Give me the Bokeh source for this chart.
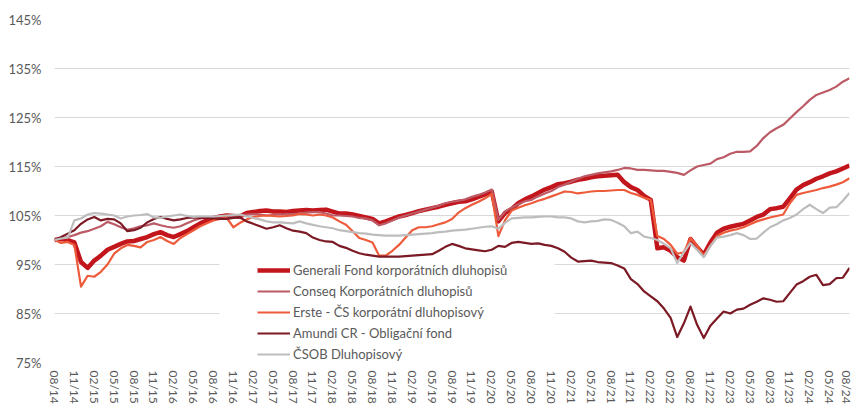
from bokeh.plotting import figure
from bokeh.models import Range1d, FixedTicker, Legend, LegendItem, BoxAnnotation
from bokeh.embed import file_html
from bokeh.resources import INLINE

# ---------------- data (monthly, 08/2014 .. 08/2024) ----------------
x_labels = ["08/14", "11/14", "02/15", "05/15", "08/15", "11/15", "02/16", "05/16",
            "08/16", "11/16", "02/17", "05/17", "08/17", "11/17", "02/18", "05/18",
            "08/18", "11/18", "02/19", "05/19", "08/19", "11/19", "02/20", "05/20",
            "08/20", "11/20", "02/21", "05/21", "08/21", "11/21", "02/22", "05/22",
            "08/22", "11/22", "02/23", "05/23", "08/23", "11/23", "02/24", "05/24",
            "08/24"]
y_ticks = [75, 85, 95, 105, 115, 125, 135, 145]
y_labels = ["75%", "85%", "95%", "105%", "115%", "125%", "135%", "145%"]

series_names = ["Generali Fond korporátních dluhopisů",
                "Conseq Korporátních dluhopisů",
                "Erste - ČS korporátní dluhopisový",
                "Amundi CR - Obligační fond",
                "ČSOB Dluhopisový"]

generali = [100.0, 100.2, 100.0, 99.5, 95.5, 94.3, 95.8, 96.8, 98.0, 98.6,
            99.2, 99.7, 99.8, 100.2, 100.6, 101.2, 101.6, 101.0, 100.6, 101.2,
            101.8, 102.6, 103.4, 104.0, 104.5, 104.8, 105.0, 104.9, 104.8, 105.5,
            105.7, 105.9, 106.0, 105.8, 105.8, 105.7, 105.9, 106.0, 106.1, 106.0,
            106.1, 106.2, 105.8, 105.4, 105.4, 105.2, 104.9, 104.6, 104.3, 103.4,
            103.8, 104.3, 104.8, 105.1, 105.5, 105.9, 106.2, 106.5, 106.8, 107.2,
            107.5, 107.8, 107.9, 108.3, 108.8, 109.3, 109.9, 103.8, 105.5, 106.3,
            107.5, 108.3, 108.9, 109.6, 110.3, 110.8, 111.4, 111.6, 111.9, 112.3,
            112.5, 112.8, 113.0, 113.1, 113.2, 113.3, 111.8, 110.8, 110.2, 109.0,
            108.2, 98.3, 98.5, 97.8, 96.5, 95.8, 100.2, 98.5, 97.0, 99.5,
            101.5, 102.3, 102.7, 103.0, 103.3, 104.0, 104.7, 105.2, 106.3, 106.5,
            106.8, 108.5, 110.3, 111.2, 111.8, 112.5, 113.0, 113.6, 114.0, 114.6,
            115.2]

conseq = [100.0, 100.3, 100.6, 101.0, 101.5, 101.8, 102.3, 102.8, 103.7, 103.2,
          102.6, 102.1, 102.4, 102.8, 103.0, 103.4, 103.0, 102.7, 102.5, 102.8,
          103.4, 104.0, 104.4, 104.6, 104.6, 104.8, 104.8, 104.9, 105.0, 105.2,
          105.3, 105.2, 105.0, 105.1, 105.2, 105.3, 105.3, 105.4, 105.6, 105.7,
          105.7, 105.4, 105.0, 105.0, 104.9, 104.8, 104.5, 104.4, 104.0, 103.0,
          103.4, 104.0, 104.6, 105.0, 105.4, 105.8, 106.2, 106.6, 107.0, 107.5,
          107.8, 108.0, 108.3, 108.8, 109.2, 109.7, 110.3, 104.1, 105.8, 106.6,
          107.3, 107.9, 108.2, 108.9, 109.5, 110.0, 110.8, 111.3, 111.9, 112.5,
          113.0, 113.3, 113.6, 113.8, 114.0, 114.3, 114.7, 114.6, 114.3, 114.3,
          114.2, 114.1, 114.1, 113.9, 113.7, 113.3, 114.2, 115.0, 115.3, 115.6,
          116.5, 116.9, 117.6, 118.0, 118.0, 118.1, 119.2, 120.8, 122.0, 122.8,
          123.5, 124.8, 126.1, 127.3, 128.6, 129.6, 130.1, 130.6, 131.3, 132.3,
          133.0]

erste = [100.0, 99.4, 99.6, 99.0, 90.5, 92.7, 92.5, 93.5, 95.0, 97.2,
         98.3, 99.0, 98.8, 98.5, 99.6, 100.0, 100.6, 99.8, 99.2, 100.4,
         101.2, 102.0, 102.8, 103.4, 104.0, 104.3, 104.5, 102.6, 103.5, 104.2,
         104.7, 104.9, 105.0, 104.9, 104.8, 104.9, 105.0, 105.3, 105.2, 105.0,
         105.2, 105.0, 104.6, 103.8, 103.1, 101.8, 100.4, 100.0, 99.5, 96.8,
         96.8, 97.8, 99.0, 100.5, 102.0, 102.6, 102.6, 102.8, 103.2, 103.6,
         104.3, 105.6, 106.5, 107.2, 107.8, 108.5, 109.4, 100.8, 104.0, 106.0,
         106.6, 107.1, 107.5, 108.0, 108.4, 108.9, 109.4, 109.9, 109.8, 109.5,
         109.7, 109.9, 110.0, 110.0, 110.1, 110.2, 110.2, 109.6, 109.2, 108.6,
         108.2, 100.8, 100.2, 99.0, 97.2, 97.5, 100.4, 98.8, 96.8, 98.8,
         100.8, 101.5, 101.9, 102.2, 102.6, 103.2, 103.8, 104.2, 104.6, 104.9,
         105.2, 107.5, 109.2, 109.6, 109.9, 110.2, 110.6, 110.9, 111.3, 111.8,
         112.6]

amundi = [100.0, 100.6, 101.3, 102.0, 103.3, 104.2, 104.7, 104.0, 104.3, 104.2,
          103.4, 101.8, 102.0, 102.5, 103.6, 104.3, 104.7, 104.3, 104.0, 104.2,
          104.5, 104.6, 104.5, 104.5, 104.4, 104.3, 104.3, 104.5, 104.6, 103.8,
          103.3, 102.8, 102.3, 102.6, 103.0, 102.4, 101.9, 101.7, 101.4, 100.5,
          100.0, 99.7, 99.6, 98.8, 98.4, 97.8, 97.3, 97.0, 96.8, 96.6,
          96.6, 96.6, 96.6, 96.7, 96.8, 96.9, 97.0, 97.1, 97.8, 98.6,
          99.2, 98.8, 98.3, 98.1, 97.9, 97.7, 98.0, 98.8, 98.6, 99.4,
          99.6, 99.4, 99.2, 99.3, 99.0, 98.8, 98.3, 97.6, 96.4, 95.6,
          95.7, 95.8, 95.5, 95.4, 95.3, 94.8, 94.2, 92.0, 91.0, 89.5,
          88.5, 87.5, 86.0, 84.1, 80.2, 83.0, 86.4, 82.7, 80.0, 82.5,
          84.0, 85.4, 85.0, 85.8, 86.0, 86.8, 87.4, 88.1, 87.8, 87.4,
          87.5, 89.2, 90.9, 91.6, 92.5, 92.9, 90.8, 91.0, 92.2, 92.3,
          94.3]

csob = [100.0, 100.3, 100.5, 104.0, 104.4, 105.2, 105.5, 105.4, 105.2, 105.0,
        104.4, 104.8, 105.0, 105.1, 105.3, 104.6, 104.5, 104.8, 105.0, 105.2,
        104.9, 104.7, 104.8, 104.8, 104.8, 104.9, 105.0, 105.1, 105.2, 104.8,
        104.5, 104.2, 103.8, 103.6, 103.6, 103.5, 103.4, 103.8, 103.4, 103.1,
        102.8, 102.6, 102.4, 102.0, 101.8, 101.6, 101.4, 101.3, 101.1, 101.0,
        100.9, 100.9, 100.9, 101.0, 101.1, 101.2, 101.3, 101.4, 101.6, 101.7,
        101.9, 102.0, 102.1, 102.3, 102.5, 102.7, 102.8, 102.3, 103.5, 104.4,
        104.5, 104.6, 104.6, 104.7, 104.8, 104.8, 104.6, 104.6, 104.4, 103.8,
        103.6, 103.8, 103.9, 104.2, 104.1, 103.5, 102.8, 101.4, 101.7, 100.7,
        100.4, 100.0, 99.2, 98.3, 95.3, 97.5, 99.4, 98.0, 96.5, 98.8,
        100.5, 100.7, 101.0, 101.4, 101.0, 100.2, 100.3, 101.5, 102.6, 103.2,
        104.0, 104.5, 105.2, 106.3, 107.2, 106.3, 105.5, 106.6, 106.7, 108.0,
        109.6]

colors = ["#C3161C", "#BC5A66", "#EE5B3A", "#7B1A24", "#BDBDBD"]
widths = [4.5, 2.2, 2.2, 2.2, 2.2]

months = list(range(len(generali)))
tick_pos = [3 * i for i in range(len(x_labels))]

# ---------------- figure ----------------
FONT = "Lato"
TXT = "#595959"

p = figure(width=853, height=406, output_backend="svg", toolbar_location=None,
           x_range=Range1d(0, tick_pos[-1]), y_range=Range1d(y_ticks[0], y_ticks[-1]),
           min_border_left=54, min_border_right=4, min_border_top=19, min_border_bottom=44)
p.outline_line_color = None
p.background_fill_color = "white"
p.border_fill_color = "white"

p.xgrid.visible = False
p.ygrid.ticker = FixedTicker(ticks=y_ticks)
p.ygrid.grid_line_color = "#D9D9D9"
p.ygrid.grid_line_width = 1

p.yaxis.ticker = FixedTicker(ticks=y_ticks)
p.yaxis.major_label_overrides = {t: l for t, l in zip(y_ticks, y_labels)}
p.xaxis.ticker = FixedTicker(ticks=tick_pos)
p.xaxis.major_label_overrides = {t: l for t, l in zip(tick_pos, x_labels)}
p.xaxis.major_label_orientation = "vertical"

for ax in (p.xaxis, p.yaxis):
    ax.axis_line_color = None
    ax.major_tick_line_color = None
    ax.minor_tick_line_color = None
    ax.major_tick_out = 0
    ax.major_label_text_font = FONT
    ax.major_label_text_color = TXT
p.yaxis.major_label_text_font_size = "13px"
p.xaxis.major_label_text_font_size = "12px"
p.yaxis.major_label_standoff = 13
p.xaxis.major_label_standoff = 8

# white legend panel (covers grid lines like the original)
box = BoxAnnotation(left=24.9, right=75.5, top=95.75, bottom=74,
                    fill_color="white", fill_alpha=1.0, line_color=None)
p.add_layout(box)

data = [generali, conseq, erste, amundi, csob]
items = []
for name, ys, c, w in zip(series_names, data, colors, widths):
    r = p.line(months, ys, line_color=c, line_width=w, line_join="round")
    items.append(LegendItem(label=name, renderers=[r]))

legend = Legend(items=items, location=(202, -3), orientation="vertical",
                label_text_font=FONT, label_text_font_size="13px",
                label_text_color=TXT, glyph_width=33, glyph_height=20,
                label_height=20, spacing=1, padding=1, margin=0,
                label_standoff=3, background_fill_alpha=0.0,
                border_line_alpha=0.0)
p.add_layout(legend, "center")

open("out.html", "w").write(file_html(p, INLINE))
